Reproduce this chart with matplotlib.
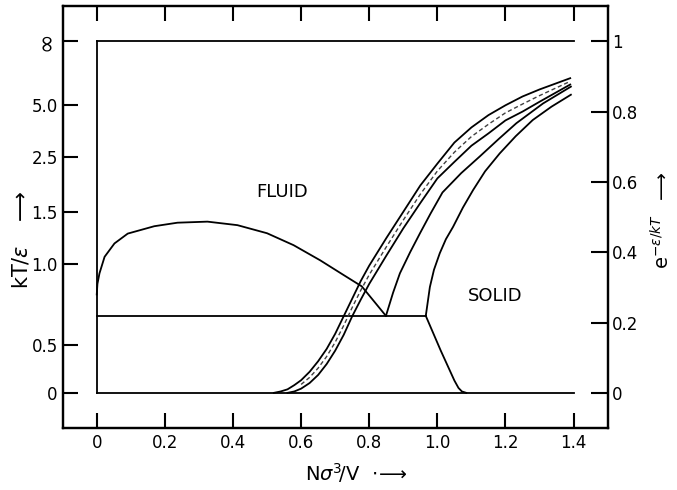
import numpy as np
import matplotlib
matplotlib.use('Agg')
from matplotlib import pyplot as plt

# gas-liquid coexistence curve (density, exp(-eps/kT))
gl_x = [0.0, 0.002, 0.008, 0.023, 0.052, 0.091, 0.169, 0.237, 0.325, 0.413, 0.5,
        0.578, 0.656, 0.725, 0.778, 0.849]
gl_y = [0.28, 0.31, 0.34, 0.387, 0.425, 0.453, 0.474, 0.484, 0.487, 0.477, 0.454,
        0.42, 0.377, 0.335, 0.303, 0.219]

# melting line, fluid side and solid side
liq_x = [0.849, 0.87, 0.89, 0.92, 0.949, 0.98, 1.015, 1.07, 1.124, 1.18, 1.232, 1.31, 1.392]
liq_y = [0.219, 0.285, 0.34, 0.4, 0.454, 0.51, 0.57, 0.625, 0.672, 0.722, 0.767, 0.823, 0.871]
sol_x = [0.966, 0.978, 0.99, 1.007, 1.025, 1.046, 1.075, 1.105, 1.14, 1.183, 1.23, 1.28, 1.335, 1.392]
sol_y = [0.219, 0.301, 0.35, 0.397, 0.437, 0.472, 0.527, 0.577, 0.63, 0.681, 0.73, 0.776, 0.814, 0.848]
sol_low_x = [0.966, 1.01, 1.05, 1.062, 1.072, 1.085]
sol_low_y = [0.219, 0.12, 0.035, 0.014, 0.004, 0.0]

# simulation band
band_x = [0.52, 0.54, 0.56, 0.58, 0.6, 0.625, 0.65, 0.675, 0.7, 0.725, 0.75, 0.775,
          0.8, 0.85, 0.9, 0.95, 1.0, 1.05, 1.1, 1.15, 1.2, 1.25, 1.3, 1.39]
band_hi = [0.0, 0.004, 0.01, 0.022, 0.036, 0.06, 0.09, 0.125, 0.168, 0.218, 0.268, 0.318,
           0.362, 0.44, 0.515, 0.59, 0.652, 0.712, 0.755, 0.79, 0.818, 0.843, 0.863, 0.895]
band_lo = [0.0, 0.0, 0.0, 0.004, 0.012, 0.028, 0.051, 0.082, 0.12, 0.165, 0.218, 0.265,
           0.31, 0.39, 0.468, 0.54, 0.61, 0.657, 0.703, 0.738, 0.775, 0.80, 0.828, 0.877]

y_triple = 0.219
rho_max = 1.4

kT_ticks = [0.5, 1.0, 1.5, 2.5, 5.0]
kT_labels = ['0', '0.5', '1.0', '1.5', '2.5', '5.0', '\u221e']
x_ticks = [0, 0.2, 0.4, 0.6, 0.8, 1.0, 1.2, 1.4]
x_labels = ['0', '0.2', '0.4', '0.6', '0.8', '1.0', '1.2', '1.4']
r_ticks = [0, 0.2, 0.4, 0.6, 0.8, 1.0]
r_labels = ['0', '0.2', '0.4', '0.6', '0.8', '1']

fig = plt.figure(figsize=(6.77, 4.9), dpi=100)
ax = fig.add_axes([0.0926, 0.1265, 0.805, 0.861])

lw = 1.3
ax.plot([0, rho_max], [1, 1], 'k', lw=lw)
ax.plot([0, rho_max], [0, 0], 'k', lw=lw)
ax.plot([0, 0], [0, 1], 'k', lw=lw)
ax.plot([0, sol_x[0]], [y_triple, y_triple], 'k', lw=lw)
ax.plot(gl_x, gl_y, 'k', lw=lw)
ax.plot(liq_x, liq_y, 'k', lw=lw)
ax.plot(sol_x, sol_y, 'k', lw=lw)
ax.plot(sol_low_x, sol_low_y, 'k', lw=lw)

ax.plot(band_x, band_hi, 'k', lw=lw)
ax.plot(band_x[2:], band_lo[2:], 'k', lw=lw)
mid = (np.array(band_hi) + np.array(band_lo)) / 2
ax.plot(band_x[4:], mid[4:], color='0.25', lw=1.0, ls=(0, (3, 2)))

ax.text(0.544, 0.572, 'FLUID', fontsize=13, ha='center', va='center')
ax.text(1.17, 0.275, 'SOLID', fontsize=13, ha='center', va='center')

ax.set_xlim(-0.1, 1.5)
ax.set_ylim(-0.1, 1.1)
ax.set_xticks(x_ticks)
ax.set_xticklabels(x_labels)
ax.set_yticks([0] + list(np.exp(-1 / np.array(kT_ticks))) + [1])
ax.set_yticklabels(kT_labels)

ax.tick_params(direction='in', length=11, width=1.5, labelsize=12, pad=4,
               top=True, right=False)
ax.tick_params(axis='y', pad=3.5)

# infinity sign stood on end at the top of the kT axis
for lab in ax.get_yticklabels():
    if lab.get_text() == '\u221e':
        lab.set_rotation(90)
        lab.set_va('center')
        lab.set_fontsize(17)

tw = ax.twinx()
tw.set_ylim(ax.get_ylim())
tw.set_yticks(r_ticks)
tw.set_yticklabels(r_labels)
tw.tick_params(direction='in', length=12, width=1.5, labelsize=12, pad=3)

for a in (ax, tw):
    for s in a.spines.values():
        s.set_linewidth(1.6)

fig.text(21 / 677, 1 - 240 / 490, r'kT/$\varepsilon$   $\longrightarrow$', rotation=90,
         fontsize=15, ha='center', va='center')
fig.text(662 / 677, 1 - 220 / 490, r'e$^{-\varepsilon/kT}$  $\longrightarrow$', rotation=90,
         fontsize=14, ha='center', va='center')
fig.text(356 / 677, 1 - 473 / 490, r'N$\sigma^3\!$/V  $\cdot\!\longrightarrow$',
         fontsize=14, ha='center', va='center')

fig.savefig('out.png', dpi=100)
